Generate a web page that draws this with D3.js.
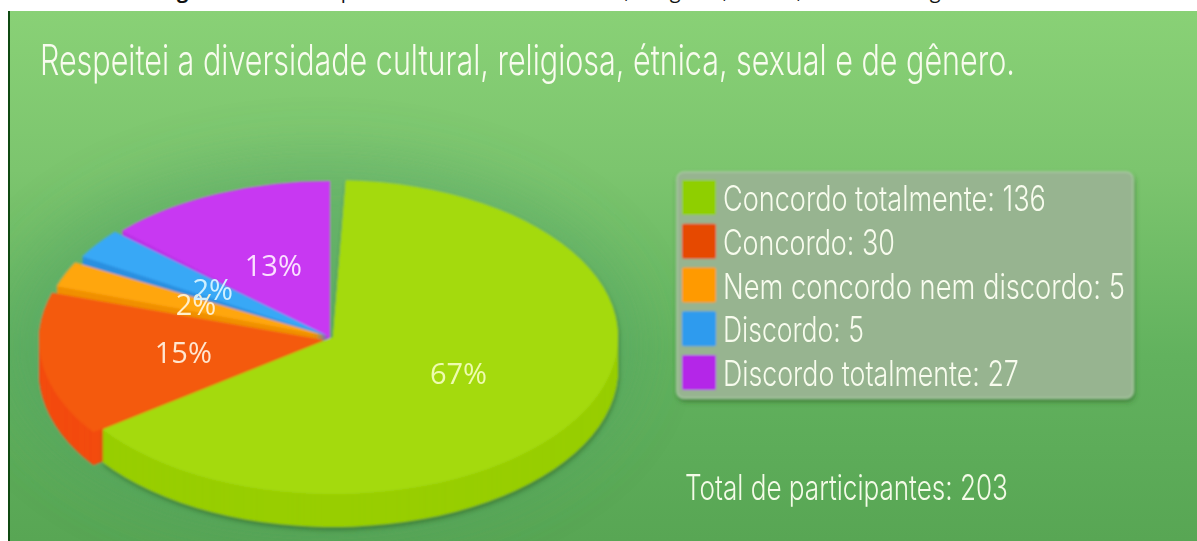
<!DOCTYPE html>
<html>
<head>
<meta charset="utf-8">
<script src="https://cdn.jsdelivr.net/npm/d3@7"></script>
<style>
html, body { margin: 0; padding: 0; background: #fff; }
svg { display: block; }
</style>
</head>
<body>
<svg></svg>
<script>
var categories = ["Concordo totalmente", "Concordo", "Nem concordo nem discordo", "Discordo", "Discordo totalmente"];
var values = [136, 30, 5, 5, 27];
var percentLabels = ["67%", "15%", "2%", "2%", "13%"];
var total = 203;

var topColors = ["#a4da0e", "#f45a10", "#ffa60c", "#38a8f6", "#c838f2"];
var wallColors = ["#98ce06", "#f34c0a", "#f09000", "#2a90e0", "#bb30e6"];
var swatchColors = ["#8fcf00", "#e64a00", "#ff9a00", "#2e9bee", "#b428e8"];
var labelColors = ["#eefbb0", "#ffe6d0", "#ffeecc", "#d0f0ff", "#fbe0ff"];

// the picture is a tilted pie, so the slice edges do not sit at their true angle
var trueEdges = [0, 241, 294, 303, 312, 360];
var drawnEdges = [2.6, 233.8, 287, 298.5, 313, 360];
var insets = [0, 0, 1, 1.5, 0];

// centre of each slice (pulled apart a little)
var centers = [[333, 337], [324, 340], [327, 336], [328, 336], [330, 338]];

var width = 1197, height = 541;
var radiusX = 285, radiusY = 157, depth = 33;

var svg = d3.select("svg").attr("width", width).attr("height", height);
var defs = svg.append("defs");

var bg = defs.append("linearGradient").attr("id", "bg").attr("x1", 0).attr("y1", 0).attr("x2", 0).attr("y2", 1);
bg.append("stop").attr("offset", "0%").attr("stop-color", "#89d176");
bg.append("stop").attr("offset", "30%").attr("stop-color", "#7cc56e");
bg.append("stop").attr("offset", "65%").attr("stop-color", "#62b25e");
bg.append("stop").attr("offset", "100%").attr("stop-color", "#58a654");

defs.append("clipPath").attr("id", "panel").append("rect")
    .attr("x", 10).attr("y", 11).attr("width", width - 10).attr("height", height - 11);

var halo = defs.append("filter").attr("id", "halo").attr("x", "-30%").attr("y", "-30%").attr("width", "160%").attr("height", "160%");
halo.append("feGaussianBlur").attr("stdDeviation", 28);

var soft = defs.append("filter").attr("id", "soft").attr("filterUnits", "userSpaceOnUse")
    .attr("x", 0).attr("y", 0).attr("width", width).attr("height", height);
soft.append("feGaussianBlur").attr("stdDeviation", 0.9);

var softText = defs.append("filter").attr("id", "softText").attr("filterUnits", "userSpaceOnUse")
    .attr("x", 0).attr("y", 0).attr("width", width).attr("height", height);
softText.append("feGaussianBlur").attr("stdDeviation", 0.45);

var shadow = defs.append("filter").attr("id", "shadow").attr("x", "-5%").attr("y", "-5%").attr("width", "110%").attr("height", "110%");
shadow.append("feDropShadow").attr("dx", 1).attr("dy", 3).attr("stdDeviation", 2).attr("flood-color", "#2f6b2c").attr("flood-opacity", 0.7);

// squeeze a text to the width it has in the picture
function fitWidth(sel, x, y, w) {
    sel.each(function () {
        var natural = this.getComputedTextLength();
        d3.select(this).attr("transform", "translate(" + x + "," + y + ") scale(" + (w / natural) + ",1)");
    });
}

// caption of the page above the picture, only its descenders are in view
svg.append("text").text("Figura").attr("x", 160).attr("y", -2)
    .style("font-family", "'Open Sans'").style("font-size", "20px").style("font-weight", 700).attr("fill", "#111");
svg.append("text").text("Respeitei a diversidade cultural, religiosa, étnica, sexual e de gênero")
    .attr("x", 305).attr("y", -2).attr("textLength", 695)
    .style("font-family", "'Open Sans'").style("font-size", "20px").attr("fill", "#111");

// background panel
svg.append("rect").attr("x", 8).attr("y", 11).attr("width", width - 8).attr("height", height - 11).attr("fill", "#0f4a12");
svg.append("rect").attr("x", 10).attr("y", 11).attr("width", width - 10).attr("height", height - 11).attr("fill", "url(#bg)");

var panel = svg.append("g").attr("clip-path", "url(#panel)");
var chart = panel.append("g").attr("filter", "url(#soft)");
var textLayer = panel.append("g").attr("filter", "url(#softText)");

// darker glow behind the pie
chart.append("ellipse").attr("cx", 320).attr("cy", 345).attr("rx", 320).attr("ry", 190)
    .attr("fill", "#4f9f66").attr("opacity", 0.4).attr("filter", "url(#halo)");

var title = textLayer.append("text").text("Respeitei a diversidade cultural, religiosa, étnica, sexual e de gênero.")
    .style("font-family", "Inter").style("font-size", "42px").style("font-weight", 300)
    .attr("fill", "#f8fcee");
fitWidth(title, 40, 75, 975);

// pie
var warp = d3.scaleLinear().domain(trueEdges).range(drawnEdges);
var toRad = function (deg) { return deg * Math.PI / 180; };
var toDeg = function (rad) { return rad * 180 / Math.PI; };

var pie = d3.pie().sort(null);
var slices = pie(values).map(function (d, i) {
    return {
        index: i,
        startAngle: toRad(warp(toDeg(d.startAngle)) + insets[i]),
        endAngle: toRad(warp(toDeg(d.endAngle)) - insets[i])
    };
});

var arc = d3.arc().innerRadius(0).outerRadius(radiusX);
var flatten = radiusY / radiusX;

// back slices first so the green one lands on top
var order = [4, 3, 2, 1, 0];
var wallSteps = d3.range(depth, 0, -1);

order.forEach(function (i) {
    var s = slices[i], c = centers[i];
    var slice = chart.append("g");
    if (i === 0) slice.attr("filter", "url(#shadow)");
    slice.selectAll("path.wall")
        .data(wallSteps)
        .enter()
        .append("path")
        .attr("class", "wall")
        .attr("d", arc(s))
        .attr("fill", wallColors[i])
        .attr("transform", function (step) {
            return "translate(" + c[0] + "," + (c[1] + step) + ") scale(1," + flatten + ")";
        });
    slice.append("path")
        .attr("d", arc(s))
        .attr("fill", topColors[i])
        .attr("transform", "translate(" + c[0] + "," + c[1] + ") scale(1," + flatten + ")");
});

// percent labels
textLayer.selectAll("text.pct")
    .data(slices)
    .enter()
    .append("text")
    .attr("class", "pct")
    .text(function (d) { return percentLabels[d.index]; })
    .attr("x", function (d) { return centers[d.index][0] + arc.centroid(d)[0]; })
    .attr("y", function (d) { return centers[d.index][1] + arc.centroid(d)[1] * flatten + 10; })
    .attr("text-anchor", "middle")
    .style("font-family", "'Open Sans'")
    .style("font-size", "29px")
    .attr("fill", function (d) { return labelColors[d.index]; });

// legend
var legendX = 677, legendY = 172, legendW = 456, legendH = 226;
var rowScale = d3.scaleBand().domain(d3.range(categories.length)).range([180, 390]).paddingInner(0.2);

chart.append("rect")
    .attr("x", legendX).attr("y", legendY).attr("width", legendW).attr("height", legendH).attr("rx", 7)
    .attr("fill", "#97b490").attr("stroke", "#a9c9a2").attr("stroke-width", 1.5)
    .attr("filter", "url(#shadow)");

chart.selectAll("rect.swatch")
    .data(categories)
    .enter()
    .append("rect")
    .attr("class", "swatch")
    .attr("x", 682)
    .attr("y", function (d, i) { return rowScale(i); })
    .attr("width", 34)
    .attr("height", rowScale.bandwidth())
    .attr("rx", 2)
    .attr("fill", function (d, i) { return swatchColors[i]; });

var legendWidths = [323, 172, 402, 141, 296];

textLayer.selectAll("text.row")
    .data(categories)
    .enter()
    .append("text")
    .attr("class", "row")
    .text(function (d, i) { return d + ": " + values[i]; })
    .style("font-family", "Inter")
    .style("font-size", "35px")
    .style("font-weight", 300)
    .attr("fill", "#f8fcee")
    .each(function (d, i) {
        fitWidth(d3.select(this), 723, rowScale(i) + rowScale.bandwidth() - 4, legendWidths[i]);
    });

var totalText = textLayer.append("text").text("Total de participantes: " + total)
    .style("font-family", "Inter").style("font-size", "35px").style("font-weight", 300)
    .attr("fill", "#f4fbe8");
fitWidth(totalText, 685, 500, 323);
</script>
</body>
</html>
